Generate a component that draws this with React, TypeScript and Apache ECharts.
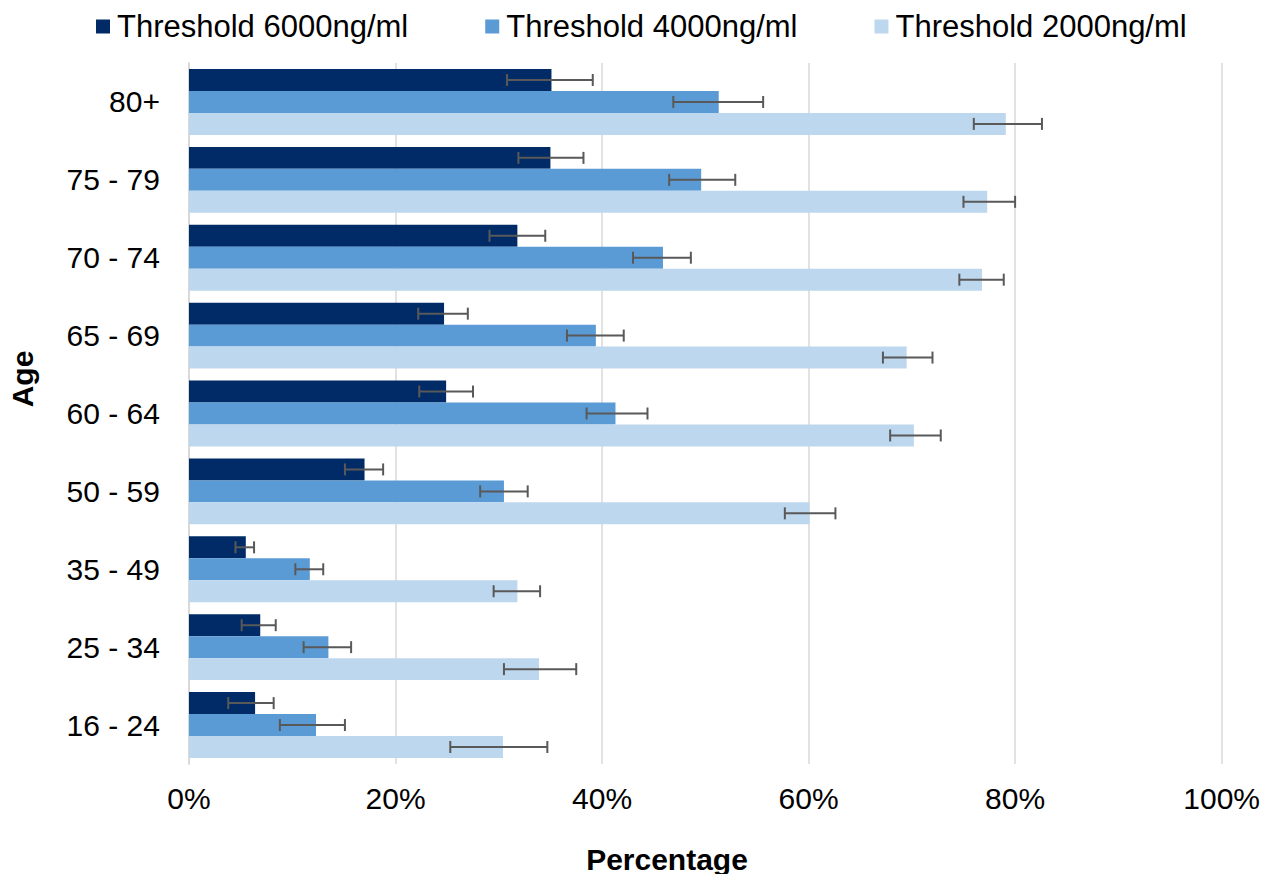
import React, { useEffect, useRef } from "react";
import * as echarts from "echarts";

const ageGroups = ["16 - 24", "25 - 34", "35 - 49", "50 - 59", "60 - 64", "65 - 69", "70 - 74", "75 - 79", "80+"];
const seriesNames = ["Threshold 6000ng/ml", "Threshold 4000ng/ml", "Threshold 2000ng/ml"];
const xTicks = [0, 20, 40, 60, 80, 100];

const t6000 = [6.4, 6.9, 5.5, 17.0, 24.9, 24.7, 31.8, 35.0, 35.1];
const t6000Low = [3.8, 5.1, 4.5, 15.1, 22.3, 22.2, 29.1, 31.9, 30.8];
const t6000High = [8.2, 8.4, 6.3, 18.8, 27.5, 27.0, 34.5, 38.2, 39.1];

const t4000 = [12.3, 13.5, 11.7, 30.5, 41.3, 39.4, 45.9, 49.6, 51.3];
const t4000Low = [8.8, 11.1, 10.3, 28.2, 38.5, 36.6, 43.0, 46.5, 46.9];
const t4000High = [15.1, 15.7, 13.0, 32.8, 44.4, 42.1, 48.6, 52.9, 55.6];

const t2000 = [30.4, 33.9, 31.8, 60.1, 70.2, 69.5, 76.8, 77.3, 79.1];
const t2000Low = [25.3, 30.5, 29.5, 57.7, 67.9, 67.2, 74.6, 75.0, 76.0];
const t2000High = [34.7, 37.5, 34.0, 62.6, 72.8, 72.0, 78.9, 80.0, 82.6];

const colors = ["#002b66", "#5b9bd5", "#bdd7ee"];
const CAT_GAP = 0.154;
const FONT = "Liberation Sans, Arial, sans-serif";

export default function App() {
  const ref = useRef<HTMLDivElement>(null);
  useEffect(() => {
    document.body.style.margin = "0";
    if (!ref.current) return;
    const chart = echarts.init(ref.current, null, { renderer: "svg" });

    const values = [t6000, t4000, t2000];
    const lows = [t6000Low, t4000Low, t2000Low];
    const highs = [t6000High, t4000High, t2000High];
    const errData: number[][] = [];
    for (let k = 0; k < 3; k++) {
      for (let i = 0; i < ageGroups.length; i++) {
        errData.push([i, lows[k][i], highs[k][i], k]);
      }
    }

    const barSeries = seriesNames.map((name, k) => ({
      name,
      type: "bar",
      data: values[k],
      barGap: "0%",
      barCategoryGap: (CAT_GAP * 100).toFixed(1) + "%",
      itemStyle: { color: colors[k] },
    }));

    chart.setOption({
      animation: false,
      textStyle: { fontFamily: FONT },
      legend: {
        data: seriesNames,
        left: 91,
        top: 6,
        icon: "rect",
        itemWidth: 14,
        itemHeight: 14,
        itemGap: 77,
        textStyle: { fontSize: 31, color: "#000", fontFamily: FONT, padding: [0, 0, 0, 2] },
      },
      grid: { left: 189, right: 41, top: 63, bottom: 110, containLabel: false },
      xAxis: {
        type: "value",
        min: 0,
        max: 100,
        interval: 20,
        axisLine: { show: false },
        axisTick: { show: false },
        splitLine: { show: true, lineStyle: { color: "#d9d9d9", width: 1.5 } },
        axisLabel: {
          formatter: (v: number) => (xTicks.indexOf(v) >= 0 ? v + "%" : ""),
          fontSize: 30,
          color: "#000",
          fontFamily: FONT,
          margin: 19,
        },
      },
      yAxis: {
        type: "category",
        data: ageGroups,
        axisLine: { show: true, lineStyle: { color: "#d9d9d9", width: 2 } },
        axisTick: { show: false },
        axisLabel: { fontSize: 30, color: "#000", fontFamily: FONT, margin: 29 },
      },
      graphic: [
        {
          type: "text",
          x: 22,
          y: 379,
          rotation: Math.PI / 2,
          style: {
            text: "Age",
            font: "bold 30px " + FONT,
            fill: "#000",
            textAlign: "center",
            textVerticalAlign: "middle",
          },
        },
        {
          type: "text",
          x: 667,
          y: 859,
          style: {
            text: "Percentage",
            font: "bold 30px " + FONT,
            fill: "#000",
            textAlign: "center",
            textVerticalAlign: "middle",
          },
        },
      ],
      series: [
        ...barSeries,
        {
          type: "custom",
          name: "errors",
          data: errData,
          encode: { x: [1, 2], y: 0 },
          z: 10,
          clip: false,
          silent: true,
          renderItem: (params: any, api: any) => {
            const idx = api.value(0);
            const lo = api.value(1);
            const hi = api.value(2);
            const k = api.value(3);
            const p0 = api.coord([lo, idx]);
            const p1 = api.coord([hi, idx]);
            const band = api.size([0, 1])[1];
            const barW = (band * (1 - CAT_GAP)) / 3;
            const y = p0[1] + (k - 1) * barW;
            const cap = 6;
            const style = { stroke: "#595959", lineWidth: 2 };
            return {
              type: "group",
              children: [
                { type: "line", shape: { x1: p0[0], y1: y, x2: p1[0], y2: y }, style },
                { type: "line", shape: { x1: p0[0], y1: y - cap, x2: p0[0], y2: y + cap }, style },
                { type: "line", shape: { x1: p1[0], y1: y - cap, x2: p1[0], y2: y + cap }, style },
              ],
            };
          },
        },
      ],
    });
    return () => chart.dispose();
  }, []);
  return <div ref={ref} style={{ width: 1263, height: 874 }} />;
}
